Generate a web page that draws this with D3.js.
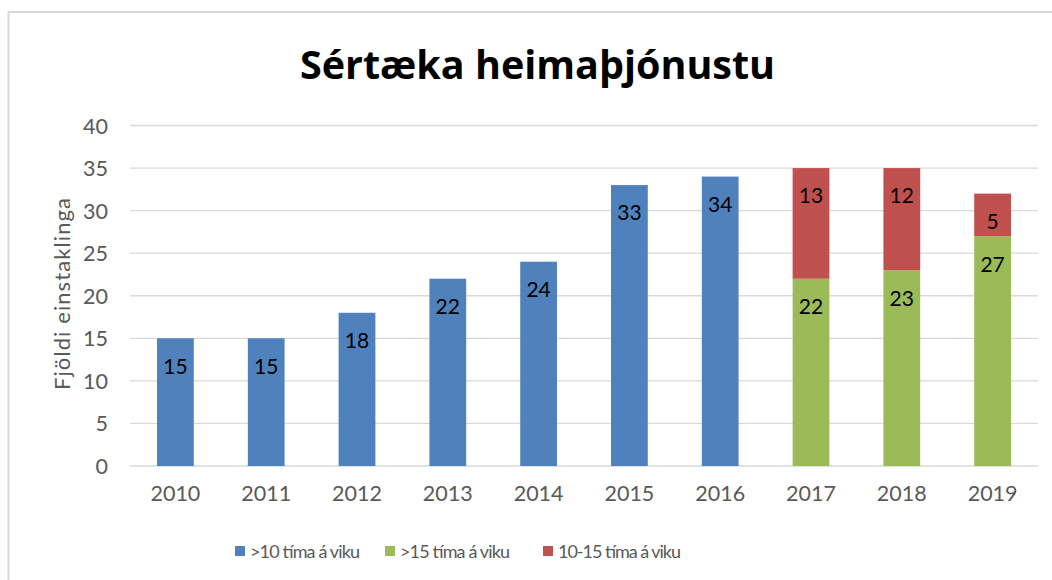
<!DOCTYPE html>
<html>
<head>
<meta charset="utf-8">
<script src="https://cdn.jsdelivr.net/npm/d3@7"></script>
<style>
  html, body { margin: 0; padding: 0; background: #fff; }
  svg { display: block; font-family: Lato, "Noto Sans", sans-serif; }
</style>
</head>
<body>
<svg id="chart" width="1052" height="580"></svg>
<script>
const title = "Sértæka heimaþjónustu";
const yAxisTitle = "Fjöldi einstaklinga";
const categories = ["2010","2011","2012","2013","2014","2015","2016","2017","2018","2019"];
const seriesNames = [">10 tíma á viku", ">15 tíma á viku", "10-15 tíma á viku"];
const seriesColors = ["#4F81BD", "#9BBB59", "#C0504D"];
const over10 = [15, 15, 18, 22, 24, 33, 34, 0, 0, 0];
const over15 = [0, 0, 0, 0, 0, 0, 0, 22, 23, 27];
const between10and15 = [0, 0, 0, 0, 0, 0, 0, 13, 12, 5];
const yTicks = [0, 5, 10, 15, 20, 25, 30, 35, 40];

const svg = d3.select("#chart");
const W = 1052, H = 580;
const AXFS = "21.5px";

// outer border
svg.append("rect").attr("x", 8.5).attr("y", 12).attr("width", W).attr("height", H)
  .attr("fill", "#fff").attr("stroke", "#d9d9d9").attr("stroke-width", 2);

const x = d3.scaleBand().domain(categories).range([130, 1038]).paddingInner(0.595).paddingOuter(0.2975);
const y = d3.scaleLinear().domain([0, 40]).range([466, 125.5]);

// gridlines
svg.append("g").selectAll("line").data(yTicks).join("line")
  .attr("x1", 130).attr("x2", 1038)
  .attr("y1", d => y(d)).attr("y2", d => y(d))
  .attr("stroke", "#d9d9d9").attr("stroke-width", 1.3);

// y axis labels
const yAxis = d3.axisLeft(y).tickValues(yTicks).tickSize(0).tickPadding(0);
const yg = svg.append("g").attr("transform", "translate(108,0)").call(yAxis);
yg.select(".domain").remove();
yg.selectAll("text").attr("fill", "#595959").style("font-size", AXFS)
  .style("font-family", "Lato, sans-serif").attr("dy", "0.35em");

// x axis labels
const xAxis = d3.axisBottom(x).tickSize(0).tickPadding(0);
const xg = svg.append("g").attr("transform", "translate(0,486)").call(xAxis);
xg.select(".domain").remove();
xg.selectAll("text").attr("fill", "#595959").style("font-size", AXFS)
  .style("font-family", "Lato, sans-serif").attr("dy", "0.71em");

// stacked data
const rows = categories.map((c, i) => ({cat: c, s0: over10[i], s1: over15[i], s2: between10and15[i]}));
const stack = d3.stack().keys(["s0", "s1", "s2"]);
const layers = stack(rows);

const gBars = svg.append("g");
layers.forEach((layer, li) => {
  const seg = layer.filter(d => d[1] - d[0] > 0);
  gBars.append("g").selectAll("rect").data(seg).join("rect")
    .attr("x", d => x(d.data.cat))
    .attr("width", x.bandwidth())
    .attr("y", d => y(d[1]))
    .attr("height", d => y(d[0]) - y(d[1]))
    .attr("fill", seriesColors[li]);
  gBars.append("g").selectAll("text").data(seg).join("text")
    .attr("x", d => x(d.data.cat) + x.bandwidth() / 2)
    .attr("y", d => y(d[1]) + 28)
    .attr("dy", "0.35em")
    .attr("text-anchor", "middle")
    .attr("fill", "#000")
    .style("font-size", "21px")
    .text(d => d[1] - d[0]);
});

// title
svg.append("text").attr("x", 537.5).attr("y", 79).attr("text-anchor", "middle")
  .style("font-family", "'Open Sans', Lato, sans-serif")
  .style("font-size", "39.5px").style("font-weight", "bold").attr("fill", "#000")
  .text(title);

// y axis title
svg.append("text").attr("transform", "translate(62,294) rotate(-90)")
  .attr("text-anchor", "middle").attr("dy", "0.35em")
  .attr("textLength", 192).attr("lengthAdjust", "spacing")
  .style("font-size", "22px").attr("fill", "#595959").text(yAxisTitle);

// legend
const legendX = [235, 385, 543];
const legendLen = [110, 110, 123];
const lg = svg.append("g");
seriesNames.forEach((n, i) => {
  lg.append("rect").attr("x", legendX[i]).attr("y", 546).attr("width", 10).attr("height", 10)
    .attr("fill", seriesColors[i]);
  lg.append("text").attr("x", legendX[i] + 15).attr("y", 551.5).attr("dy", "0.35em")
    .attr("textLength", legendLen[i]).attr("lengthAdjust", "spacing")
    .style("font-size", "18px").attr("fill", "#595959").text(n);
});
</script>
</body>
</html>
